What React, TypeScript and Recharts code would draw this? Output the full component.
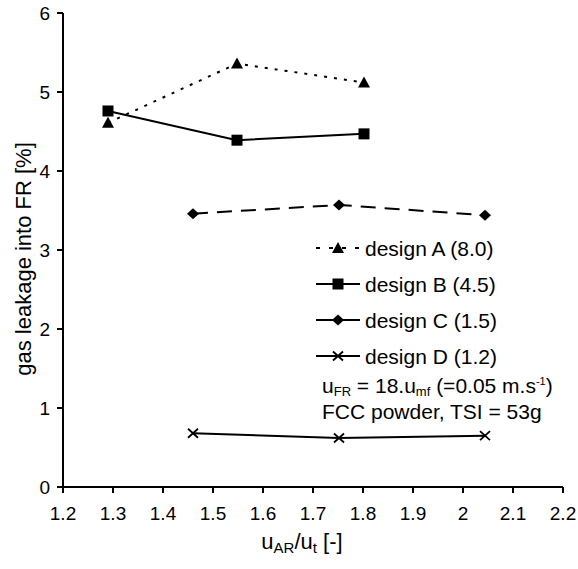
import React from 'react';
import { Label, Legend, Line, LineChart, XAxis, YAxis } from 'recharts';

const xTicks = [1.2, 1.3, 1.4, 1.5, 1.6, 1.7, 1.8, 1.9, 2.0, 2.1, 2.2];
const yTicks = [0, 1, 2, 3, 4, 5, 6];

const designAx = [1.29, 1.548, 1.802];
const designAy = [4.61, 5.36, 5.12];
const designBx = [1.29, 1.548, 1.802];
const designBy = [4.76, 4.39, 4.47];
const designCx = [1.46, 1.752, 2.044];
const designCy = [3.46, 3.57, 3.44];
const designDx = [1.46, 1.752, 2.044];
const designDy = [0.68, 0.62, 0.65];

const seriesNames = ['design A (8.0)', 'design B (4.5)', 'design C (1.5)', 'design D (1.2)'];

const FONT = '"Liberation Sans", Arial, sans-serif';
const INK = '#000';

type Shape = 'triangle' | 'square' | 'diamond' | 'cross';

const toRows = (xs: number[], ys: number[]) => xs.map((x, i) => ({ x, y: ys[i] }));

const series = [
  { name: seriesNames[0], data: toRows(designAx, designAy), shape: 'triangle' as Shape, dash: '3 7', legendDash: '4 9' },
  { name: seriesNames[1], data: toRows(designBx, designBy), shape: 'square' as Shape, dash: undefined, legendDash: undefined },
  { name: seriesNames[2], data: toRows(designCx, designCy), shape: 'diamond' as Shape, dash: '15 9', legendDash: undefined },
  { name: seriesNames[3], data: toRows(designDx, designDy), shape: 'cross' as Shape, dash: undefined, legendDash: undefined }
];

function Marker({ shape, cx, cy }: { shape: Shape; cx: number; cy: number }) {
  if (shape === 'triangle') {
    return <path d={`M${cx},${cy - 6} L${cx + 6},${cy + 5} L${cx - 6},${cy + 5} Z`} fill={INK} />;
  }
  if (shape === 'square') {
    return <rect x={cx - 5.5} y={cy - 5.5} width={11} height={11} fill={INK} />;
  }
  if (shape === 'diamond') {
    return <path d={`M${cx},${cy - 5.5} L${cx + 6},${cy} L${cx},${cy + 5.5} L${cx - 6},${cy} Z`} fill={INK} />;
  }
  return (
    <path
      d={`M${cx - 5},${cy - 4.5} L${cx + 5},${cy + 4.5} M${cx + 5},${cy - 4.5} L${cx - 5},${cy + 4.5}`}
      stroke={INK}
      strokeWidth={1.8}
      fill="none"
    />
  );
}

function formatTick(value: number) {
  return String(Number(value.toFixed(1)));
}

function YTitle({ viewBox }: any) {
  const cy = viewBox.y + viewBox.height / 2 + 9;
  const cx = 23;
  return (
    <text
      x={cx}
      y={cy}
      transform={`rotate(-90 ${cx} ${cy})`}
      textAnchor="middle"
      dominantBaseline="central"
      fontSize={22}
      fill={INK}
    >
      gas leakage into FR [%]
    </text>
  );
}

function XTitle({ viewBox }: any) {
  const cx = viewBox.x + viewBox.width / 2 - 11;
  const y = viewBox.y + 62;
  return (
    <text x={cx} y={y} textAnchor="middle" fontSize={22} fill={INK}>
      u
      <tspan fontSize={15} dy={4}>AR</tspan>
      <tspan dy={-4}>/u</tspan>
      <tspan fontSize={15} dy={4}>t</tspan>
      <tspan dy={-4}> [-]</tspan>
    </text>
  );
}

function LegendBox() {
  const sub = { fontSize: 13, lineHeight: 1, position: 'relative' as const, top: 3 };
  const sup = { fontSize: 11, lineHeight: 1, position: 'relative' as const, top: -8 };
  return (
    <div style={{ fontFamily: FONT, color: INK, fontSize: 21, lineHeight: 1 }}>
      {series.map((s) => (
        <div key={s.name} style={{ display: 'flex', alignItems: 'center', height: 36 }}>
          <svg width={44} height={16} style={{ display: 'block' }}>
            <line x1={0} y1={8} x2={44} y2={8} stroke={INK} strokeWidth={2} strokeDasharray={s.legendDash} />
            <Marker shape={s.shape} cx={22} cy={8} />
          </svg>
          <span style={{ marginLeft: 5, whiteSpace: 'nowrap' }}>{s.name}</span>
        </div>
      ))}
      <div style={{ paddingLeft: 6, height: 23, display: 'flex', alignItems: 'center', whiteSpace: 'nowrap' }}>
        <span>
          u<span style={sub}>FR</span> = 18.u<span style={sub}>mf</span> (=0.05 m.s<span style={sup}>-1</span>)
        </span>
      </div>
      <div style={{ paddingLeft: 6, marginTop: 3, height: 23, display: 'flex', alignItems: 'center', whiteSpace: 'nowrap' }}>
        FCC powder, TSI = 53g
      </div>
    </div>
  );
}

export default function App() {
  return (
    <div style={{ position: 'absolute', left: 0, top: 0, width: 578, height: 569, background: '#fff', fontFamily: FONT }}>
      <LineChart width={578} height={569} margin={{ top: 13, right: 15, left: 0, bottom: 0 }}>
        <XAxis
          type="number"
          dataKey="x"
          domain={[1.2, 2.2]}
          ticks={xTicks}
          interval={0}
          height={82}
          tickSize={6}
          tickMargin={14}
          tickFormatter={formatTick}
          axisLine={{ stroke: INK, strokeWidth: 2 }}
          tickLine={{ stroke: INK, strokeWidth: 2 }}
          tick={{ fill: INK, fontSize: 19 }}
          allowDataOverflow
        >
          <Label content={XTitle} />
        </XAxis>
        <YAxis
          type="number"
          domain={[0, 6]}
          ticks={yTicks}
          interval={0}
          width={63}
          tickSize={6}
          tickMargin={7}
          axisLine={{ stroke: INK, strokeWidth: 2 }}
          tickLine={{ stroke: INK, strokeWidth: 2 }}
          tick={{ fill: INK, fontSize: 19 }}
          allowDataOverflow
        >
          <Label content={YTitle} />
        </YAxis>
        <Legend
          layout="horizontal"
          verticalAlign="middle"
          align="center"
          content={() => <LegendBox />}
          wrapperStyle={{ left: 316, top: 230, width: 262 }}
        />
        {series.map((s) => (
          <Line
            key={s.name}
            name={s.name}
            data={s.data}
            dataKey="y"
            type="linear"
            stroke={INK}
            strokeWidth={2}
            strokeDasharray={s.dash}
            isAnimationActive={false}
            dot={(p: any) => <Marker key={`${s.name}-${p.index}`} shape={s.shape} cx={p.cx} cy={p.cy} />}
            activeDot={false}
          />
        ))}
      </LineChart>
    </div>
  );
}
